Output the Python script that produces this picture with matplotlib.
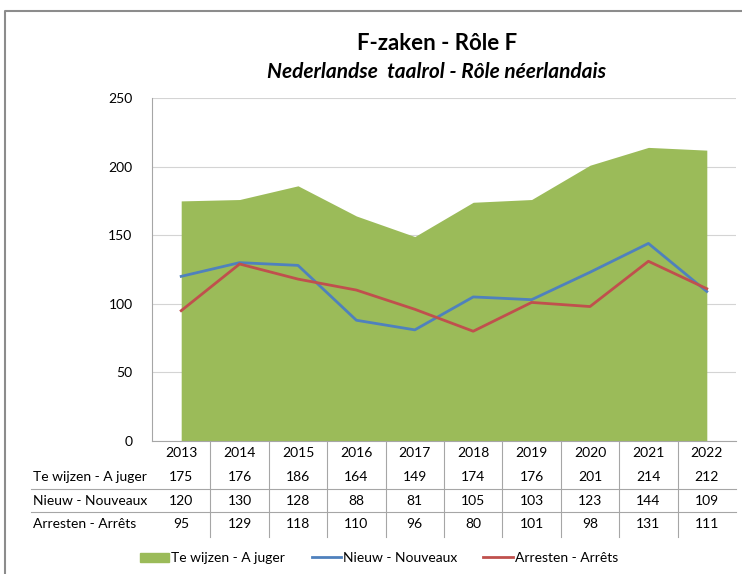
import matplotlib
matplotlib.use('Agg')
import matplotlib.pyplot as plt
from matplotlib.lines import Line2D
from matplotlib.patches import Patch
import matplotlib.transforms as mtransforms

plt.rcParams['font.family'] = ['Lato', 'DejaVu Sans']

# Data
years = ['2013', '2014', '2015', '2016', '2017', '2018', '2019', '2020', '2021', '2022']
te_wijzen = [175, 176, 186, 164, 149, 174, 176, 201, 214, 212]
nieuw = [120, 130, 128, 88, 81, 105, 103, 123, 144, 109]
arresten = [95, 129, 118, 110, 96, 80, 101, 98, 131, 111]
series_names = ['Te wijzen - A juger', 'Nieuw - Nouveaux', 'Arresten - Arrêts']
y_ticks = [0, 50, 100, 150, 200, 250]

green = '#9BBB59'
blue = '#4F81BD'
red = '#C0504D'

W, H = 742, 574
fig = plt.figure(figsize=(W / 100, H / 100), dpi=100)


def fx(px):
    return px / W


def fy(py):
    return 1 - py / H


# outer frame (top and left edges visible)
fig.add_artist(Line2D([fx(5), fx(5), 1.0], [0.0, fy(11), fy(11)],
                      transform=fig.transFigure, color='#8c8c8c', lw=1.5))

# titles
fig.text(fx(437), fy(44), 'F-zaken - Rôle F', ha='center', va='center',
         fontsize=16, fontweight='bold')
fig.text(fx(437), fy(72), 'Nederlandse  taalrol - Rôle néerlandais', ha='center',
         va='center', fontsize=15, fontweight='bold', style='italic')

# plot area
ax = fig.add_axes([fx(152), fy(441), fx(736) - fx(152), (441 - 98) / H])
x = list(range(len(years)))
ax.fill_between(x, 0, te_wijzen, color=green, lw=0, zorder=2)
ax.plot(x, nieuw, color=blue, lw=2, zorder=3)
ax.plot(x, arresten, color=red, lw=2, zorder=3)

ax.set_xlim(-0.5, len(years) - 0.5)
ax.set_ylim(0, 250)
ax.set_yticks(y_ticks)
ax.set_yticklabels([str(v) for v in y_ticks], fontsize=10)
ax.set_xticks([])
ax.tick_params(axis='y', length=0, pad=14)
ax.grid(axis='y', color='#d4d4d4', lw=0.8, zorder=0)
ax.set_axisbelow(True)
for s in ['top', 'right']:
    ax.spines[s].set_visible(False)
ax.spines['left'].set_color('#a6a6a6')
ax.spines['bottom'].set_color('#a6a6a6')

# data table under the axis
trans = mtransforms.blended_transform_factory(ax.transData, fig.transFigure)
row_y = [453, 477, 501, 524]
for i, yr in enumerate(years):
    fig.text(i, fy(row_y[0]), yr, transform=trans, ha='center', va='center', fontsize=10)
    for r, vals in enumerate([te_wijzen, nieuw, arresten]):
        fig.text(i, fy(row_y[r + 1]), str(vals[i]), transform=trans,
                 ha='center', va='center', fontsize=10)
for r, name in enumerate(series_names):
    fig.text(fx(33), fy(row_y[r + 1]), name, ha='left', va='center', fontsize=10)

for i in range(len(years) - 1):
    fig.add_artist(Line2D([i + 0.5, i + 0.5], [fy(441), fy(537)], transform=trans,
                          color='#a6a6a6', lw=0.8))
for py in [489, 512]:
    fig.add_artist(Line2D([fx(31), fx(736)], [fy(py), fy(py)],
                          transform=fig.transFigure, color='#a6a6a6', lw=0.8))

# legend
handles = [Patch(color=green),
           Line2D([], [], color=blue, lw=2),
           Line2D([], [], color=red, lw=2)]
fig.legend(handles, series_names, loc='center', bbox_to_anchor=(fx(379), fy(558)),
           ncol=3, frameon=False, fontsize=10, handlelength=2.1, handleheight=0.6,
           handletextpad=0.15, columnspacing=1.9)

fig.savefig('out.png', dpi=100)
